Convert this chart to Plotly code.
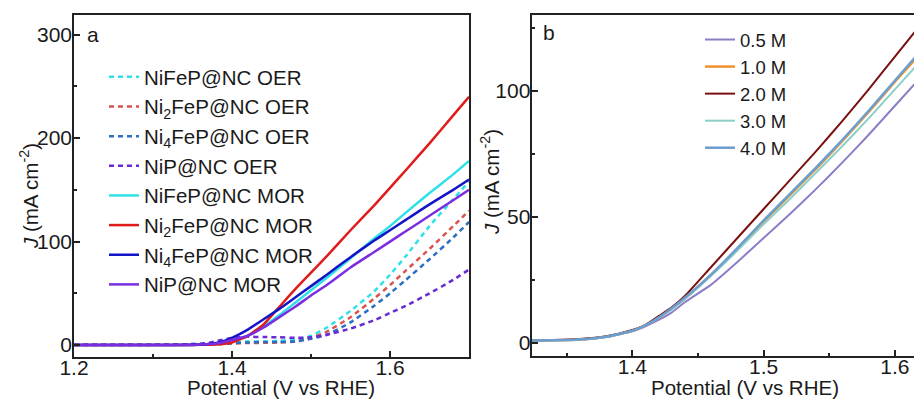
import plotly.graph_objects as go

# ---------------- Panel a data ----------------
va = [1.20, 1.25, 1.30, 1.35, 1.37, 1.38, 1.39, 1.40, 1.42, 1.44, 1.46, 1.48,
      1.50, 1.52, 1.55, 1.58, 1.60, 1.62, 1.65, 1.68, 1.70]

nifep_oer  = [0.5, 0.5, 0.5, 1.0, 1.5, 2.0, 2.5, 3.0, 3.5, 3.5, 4.0, 5.5,
              9.0, 17, 33, 52, 68, 86, 115, 141, 158]
ni2fep_oer = [0.3, 0.3, 0.3, 0.5, 0.8, 1.0, 1.2, 1.5, 2.0, 2.2, 2.5, 3.5,
              7.0, 13, 27, 45, 58, 72, 93, 115, 130]
ni4fep_oer = [0.3, 0.3, 0.3, 0.5, 0.8, 1.0, 1.3, 1.8, 2.5, 3.0, 3.0, 3.5,
              6.0, 10, 22, 38, 50, 63, 83, 104, 119]
nip_oer    = [0.0, 0.0, 0.2, 1.0, 2.0, 4.0, 5.5, 7.0, 8.0, 7.8, 7.5, 7.0,
              7.5, 10, 16, 24, 31, 38, 50, 63, 73]
nifep_mor  = [0.0, 0.0, 0.0, 0.2, 0.5, 1.0, 2.0, 4.0, 9, 18, 29, 41,
              53, 65, 84, 103, 115, 128, 147, 165, 178]
ni2fep_mor = [0.0, 0.0, 0.0, 0.2, 0.3, 0.5, 1.2, 2.5, 9, 20, 37, 54,
              70, 86, 111, 135, 152, 169, 195, 222, 240]
ni4fep_mor = [0.0, 0.0, 0.0, 0.3, 1.0, 2.0, 4.0, 7.0, 15, 25, 35, 46,
              57, 68, 85, 101, 111, 121, 136, 150, 160]
nip_mor    = [0.0, 0.0, 0.0, 0.2, 0.8, 1.5, 3.0, 5.0, 9, 17, 27, 37,
              48, 58, 75, 90, 100, 110, 125, 140, 150]

names_a = ["NiFeP@NC OER", "Ni<sub>2</sub>FeP@NC OER", "Ni<sub>4</sub>FeP@NC OER",
           "NiP@NC OER", "NiFeP@NC MOR", "Ni<sub>2</sub>FeP@NC MOR",
           "Ni<sub>4</sub>FeP@NC MOR", "NiP@NC MOR"]
series_a = [nifep_oer, ni2fep_oer, ni4fep_oer, nip_oer,
            nifep_mor, ni2fep_mor, ni4fep_mor, nip_mor]
colors_a = ["#2ee0e8", "#d9534f", "#2a6fc4", "#6a2ad6",
            "#2ee0e8", "#e01b1b", "#1414c8", "#7a2ee0"]
dashes_a = ["5px,4px"] * 4 + ["solid"] * 4

# ---------------- Panel b data ----------------
vb = [1.32, 1.34, 1.36, 1.38, 1.40, 1.41, 1.42, 1.43, 1.44, 1.46, 1.48, 1.50,
      1.52, 1.54, 1.56, 1.58, 1.60, 1.62]
c05 = [0.8, 0.9, 1.2, 2.2, 4.5, 6.5, 9.0, 12.0, 16.0, 23.0, 32.0, 41.5,
       51.0, 61.0, 71.5, 82.5, 94.0, 105.5]
c10 = [0.8, 0.9, 1.2, 2.3, 4.7, 6.8, 9.8, 13.5, 17.5, 27.0, 37.0, 48.0,
       58.5, 69.0, 80.0, 91.5, 103.5, 115.0]
c20 = [0.8, 1.0, 1.4, 2.5, 5.0, 7.0, 10.5, 14.0, 18.5, 30.0, 41.5, 53.0,
       64.5, 76.0, 88.0, 100.5, 113.5, 126.5]
c30 = [0.8, 0.9, 1.2, 2.3, 4.7, 6.8, 9.8, 13.3, 17.3, 26.5, 36.5, 47.0,
       57.0, 67.5, 78.0, 89.0, 100.5, 112.0]
c40 = [0.8, 0.9, 1.2, 2.3, 4.7, 6.8, 9.9, 13.6, 17.8, 27.0, 37.5, 48.5,
       59.0, 69.5, 80.5, 92.0, 104.0, 116.0]
names_b = ["0.5 M", "1.0 M", "2.0 M", "3.0 M", "4.0 M"]
series_b = [c05, c10, c20, c30, c40]
colors_b = ["#8a7ec8", "#f0922b", "#7a1010", "#8ccfc8", "#6a9fd0"]
widths_b = [2, 2.5, 2, 2, 2.5]

# page body has an 8px margin: the figure is sized/placed to compensate
OFF = 8
W, H = 922 - OFF, 399 - OFF
FONT = "Arial, Liberation Sans, sans-serif"
TXT = "#1a1a1a"


def xp(px):
    return (px - OFF) / W


def yp(py):
    return 1 - (py - OFF) / H


fig = go.Figure()
for name, ys, col, dsh in zip(names_a, series_a, colors_a, dashes_a):
    fig.add_trace(go.Scatter(x=va, y=ys, name=name, mode="lines",
                             line=dict(color=col, width=2.5, dash=dsh, shape="spline", smoothing=0.5),
                             xaxis="x", yaxis="y", legend="legend"))
for name, ys, col, w in zip(names_b, series_b, colors_b, widths_b):
    fig.add_trace(go.Scatter(x=vb, y=ys, name=name, mode="lines",
                             line=dict(color=col, width=w, shape="spline", smoothing=0.5),
                             xaxis="x2", yaxis="y2", legend="legend2"))

axis_common = dict(showline=True, linecolor="#222", linewidth=1.5, ticks="inside",
                   ticklen=6, tickwidth=1.5, tickcolor="#222", showgrid=False,
                   zeroline=False, automargin=False,
                   tickfont=dict(family=FONT, size=21, color=TXT))
minor_common = dict(ticks="inside", ticklen=3, tickwidth=1.5, tickcolor="#222")

ann_font = dict(family=FONT, size=20.5, color=TXT)
ytitle_text = "<i>J</i> (mA cm<sup>-2</sup>)"

fig.update_layout(
    template="none",
    width=W, height=H, margin=dict(l=0, r=0, t=0, b=0, autoexpand=False),
    paper_bgcolor="white", plot_bgcolor="white",
    showlegend=True,
    xaxis=dict(domain=[xp(74), xp(469)], range=[1.2, 1.7], dtick=0.2, tick0=1.2,
               tickformat=".1f", mirror=True, ticklabelposition="outside", ticklabelstandoff=-9,
               minor=dict(dtick=0.1, **minor_common), anchor="y", **axis_common),
    yaxis=dict(domain=[yp(357), yp(15)], range=[-11.5, 319], dtick=100,
               mirror=True, ticklabelposition="outside", ticklabelstandoff=-4,
               minor=dict(dtick=50, **minor_common), anchor="x", **axis_common),
    xaxis2=dict(domain=[xp(532.3), 1.0], range=[1.3238, 1.6206], dtick=0.1, tick0=1.4,
                tickformat=".1f", mirror=True, ticklabelposition="outside", ticklabelstandoff=-9,
                minor=dict(dtick=0.05, **minor_common), anchor="y2", **axis_common),
    yaxis2=dict(domain=[yp(355.7), yp(15)], range=[-5.2, 130], dtick=50,
                mirror=False, ticklabelposition="outside", ticklabelstandoff=-4,
                minor=dict(dtick=25, **minor_common), anchor="x2", **axis_common),
    legend=dict(x=xp(104), y=yp(57), xanchor="left", yanchor="top",
                bgcolor="rgba(0,0,0,0)", borderwidth=0, tracegroupgap=0,
                font=dict(family=FONT, size=20.5, color=TXT)),
    legend2=dict(x=xp(700), y=yp(21), xanchor="left", yanchor="top",
                 bgcolor="rgba(0,0,0,0)", borderwidth=0, tracegroupgap=0,
                 font=dict(family=FONT, size=18.5, color=TXT)),
    annotations=[
        dict(text="a", x=xp(93), y=yp(34), xref="paper", yref="paper",
             xanchor="center", yanchor="middle", showarrow=False,
             font=dict(family=FONT, size=21, color=TXT)),
        dict(text="b", x=xp(549), y=yp(33), xref="paper", yref="paper",
             xanchor="center", yanchor="middle", showarrow=False,
             font=dict(family=FONT, size=21, color=TXT)),
        dict(text="Potential (V vs RHE)", x=xp(281), y=yp(387.5), xref="paper", yref="paper",
             xanchor="center", yanchor="middle", showarrow=False, font=ann_font),
        dict(text="Potential (V vs RHE)", x=xp(745), y=yp(387.5), xref="paper", yref="paper",
             xanchor="center", yanchor="middle", showarrow=False, font=ann_font),
        dict(text=ytitle_text, x=xp(29), y=yp(196), xref="paper", yref="paper",
             xanchor="center", yanchor="middle", showarrow=False, textangle=-90, font=ann_font),
        dict(text=ytitle_text, x=xp(490), y=yp(182), xref="paper", yref="paper",
             xanchor="center", yanchor="middle", showarrow=False, textangle=-90, font=ann_font),
    ],
)

fig.write_html("out.html")
